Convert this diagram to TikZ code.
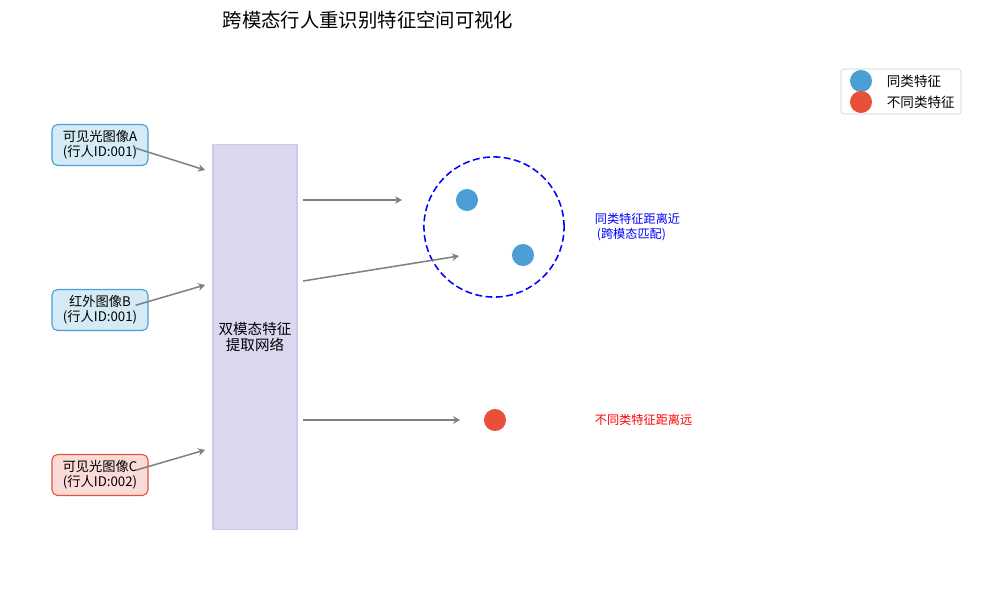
\documentclass[tikz,border=0pt]{standalone}
\usepackage{fontspec}
\setmainfont{Noto Sans CJK SC}
\usepackage{tikz}
\usetikzlibrary{positioning, arrows.meta}
\definecolor{dotblue}{HTML}{4B9FD5}
\definecolor{dotred}{HTML}{E8503A}
\definecolor{imgblue}{HTML}{D4EBF5}
\definecolor{imgred}{HTML}{FADBD8}
\definecolor{netfill}{HTML}{DCD7EF}
\definecolor{netline}{HTML}{CFC8EB}
\begin{document}
\begin{tikzpicture}[x=0.0254cm, y=-0.0254cm,
    imgbox/.style={draw=dotblue, fill=imgblue, rounded corners=4pt, line width=0.8pt,
      minimum width=2.44cm, minimum height=1.04cm, align=center, inner sep=1pt,
      font=\fontsize{9.6pt}{10.8pt}\selectfont},
    flow/.style={-{Stealth[length=5pt, width=5.5pt]}, gray, line width=1.1pt},
    featdot/.style={circle, inner sep=0pt, minimum size=0.56cm},
    note/.style={align=left, anchor=west, font=\fontsize{8.8pt}{10.5pt}\selectfont}]
	    \useasboundingbox (0,0) rectangle (1000,600);

	    \node (title) at (368,20) {\fontsize{14pt}{15pt}\selectfont 跨模态行人重识别特征空间可视化};

	    % input images
	    \node[imgbox] (imgA) at (100,145) {可见光图像A\\(行人ID:001)};
	    \node[imgbox] (imgB) at (100,310) {红外图像B\\(行人ID:001)};
	    \node[imgbox, draw=dotred, fill=imgred] (imgC) at (100,475) {可见光图像C\\(行人ID:002)};

	    % network
	    \node[draw=netline, fill=netfill, line width=1.2pt, minimum width=2.13cm, minimum height=9.78cm,
	      align=center, font=\fontsize{10.5pt}{12pt}\selectfont] (net) at (255,337) {双模态特征\\提取网络};

	    \coordinate (inA) at (205,170);
	    \coordinate (inB) at (205,285);
	    \coordinate (inC) at (205,450);
	    \draw[flow] ([xshift=-0.33cm,yshift=-0.08cm]imgA.east) -- (inA);
	    \draw[flow] ([xshift=-0.33cm,yshift=0.12cm]imgB.east) -- (inB);
	    \draw[flow] ([xshift=-0.33cm,yshift=0.12cm]imgC.east) -- (inC);

	    % feature space
	    \node[draw=blue, dashed, dash pattern=on 5pt off 2.5pt, line width=1.1pt, circle,
	      minimum size=3.56cm] (ring) at (494,227) {};
	    \node[featdot, fill=dotblue] (fA) at (467,200) {};
	    \node[featdot, fill=dotblue] (fB) at (523,255) {};
	    \node[featdot, fill=dotred] (fC) at (495,420) {};

	    \coordinate (outA) at (303,200);
	    \coordinate (outB) at (303,281);
	    \coordinate (outC) at (303,420);
	    \coordinate (endA) at (402,200);
	    \coordinate (endB) at (459,256);
	    \coordinate (endC) at (460,420);
	    \draw[flow] (outA) -- (endA);
	    \draw[flow] (outB) -- (endB);
	    \draw[flow] (outC) -- (endC);

	    \node[note, text=blue] (near) at (590,227) {同类特征距离近\\\,(跨模态匹配)};
	    \node[note, text=red] (far) at (590,420) {不同类特征距离远};

	    % legend
	    \draw[gray!40, rounded corners=2pt, fill=white] (841,69) rectangle (961,114);
	    \node[featdot, fill=dotblue] (legA) at (861,81) {};
	    \node[featdot, fill=dotred] (legB) at (861,102) {};
	    \node[anchor=west, font=\fontsize{9.8pt}{10pt}\selectfont] (legAt) at (882,81) {同类特征};
	    \node[anchor=west, font=\fontsize{9.8pt}{10pt}\selectfont] (legBt) at (882,102) {不同类特征};

	\end{tikzpicture}
\end{document}
